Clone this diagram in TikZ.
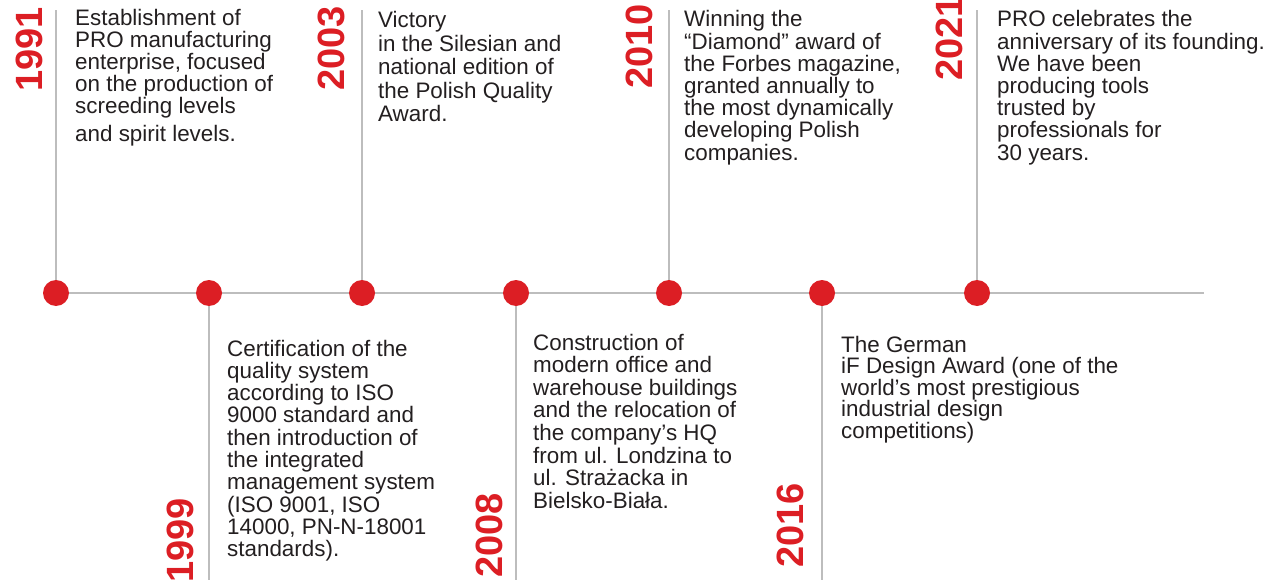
\documentclass[tikz,border=0pt]{standalone}
\usepackage{fontspec}
\setmainfont{Liberation Sans}
\usetikzlibrary{backgrounds}
\definecolor{tred}{HTML}{DC1E24}
\definecolor{tgray}{HTML}{BDBDBD}
\definecolor{ttext}{HTML}{231F20}
\begin{document}
\begin{tikzpicture}[x=1pt,y=-1pt,
  dot/.style={circle,fill=tred,minimum size=26pt,inner sep=0pt},
  rail/.style={draw=tgray,line width=2.6pt},
  stem/.style={draw=tgray,line width=2.6pt},
  year/.style={rotate=90,anchor=base west,inner sep=0pt,text=tred,font=\fontsize{38}{38}\selectfont\bfseries},
  txt/.style={anchor=base west,inner sep=0pt,text=ttext,font=\fontsize{22.4}{22}\selectfont}]
\useasboundingbox (0,0) rectangle (1279,580);

% dots
\node[dot] (d1) at (56,293) {};
\node[dot] (d2) at (209,293) {};
\node[dot] (d3) at (362,293) {};
\node[dot] (d4) at (516,293) {};
\node[dot] (d5) at (669,293) {};
\node[dot] (d6) at (822,293) {};
\node[dot] (d7) at (977,293) {};

% free ends
\coordinate (e) at (1204,293);
\coordinate (t1) at (56,10);
\coordinate (b2) at (209,580);
\coordinate (t3) at (362,10);
\coordinate (b4) at (516,580);
\coordinate (t5) at (669,10);
\coordinate (b6) at (822,580);
\coordinate (t7) at (977,10);

\begin{scope}[on background layer]
  \draw[rail] (d1.center) -- (e);
  \draw[stem] (d1.center) -- (t1);
  \draw[stem] (d2.center) -- (b2);
  \draw[stem] (d3.center) -- (t3);
  \draw[stem] (d4.center) -- (b4);
  \draw[stem] (d5.center) -- (t5);
  \draw[stem] (d6.center) -- (b6);
  \draw[stem] (d7.center) -- (t7);
\end{scope}

% years
\node[year] (y1991) at (42,92) {1991};
\node[year] (y1999) at (193,583) {1999};
\node[year] (y2003) at (344,91) {2003};
\node[year] (y2008) at (502,578) {2008};
\node[year] (y2010) at (652,89) {2010};
\node[year] (y2016) at (803,568) {2016};
\node[year] (y2021) at (962,81) {2021};

% texts
\foreach \l [count=\i from 0] in {Establishment of, PRO manufacturing, {enterprise, focused}, on the production of, screeding levels}
  \node[txt] (a\i) at (75,26+22*\i) {\l};
\node[txt] (a5) at (75,142) {and spirit levels.};

\foreach \l [count=\i from 0] in {Certification of the, quality system, according to ISO, 9000 standard and, then introduction of, the integrated, management system, {(ISO 9001, ISO}, {14000, PN-N-18001}, standards).}
  \node[txt] (b\i) at (227,356+22.3*\i) {\l};

\foreach \l [count=\i from 0] in {Victory, in the Silesian and, national edition of, the Polish Quality, Award.}
  \node[txt] (c\i) at (378,28+23.5*\i) {\l};

\foreach \l [count=\i from 0] in {Construction of, modern office and, warehouse buildings, and the relocation of, the company’s HQ, from ul. Londzina to, ul. Strażacka in, Bielsko-Biała.}
  \node[txt] (f\i) at (533,350+22.6*\i) {\l};

\foreach \l [count=\i from 0] in {Winning the, “Diamond” award of, {the Forbes magazine,}, granted annually to, the most dynamically, developing Polish, companies.}
  \node[txt] (g\i) at (684,27+22.2*\i) {\l};

\foreach \l [count=\i from 0] in {The German, iF Design Award (one of the, world’s most prestigious, industrial design, competitions)}
  \node[txt] (h\i) at (841,352+21.6*\i) {\l};

\foreach \l [count=\i from 0] in {PRO celebrates the, anniversary of its founding., We have been, producing tools, trusted by, professionals for, 30 years.}
  \node[txt] (k\i) at (997,27+22.2*\i) {\l};
\end{tikzpicture}
\end{document}
